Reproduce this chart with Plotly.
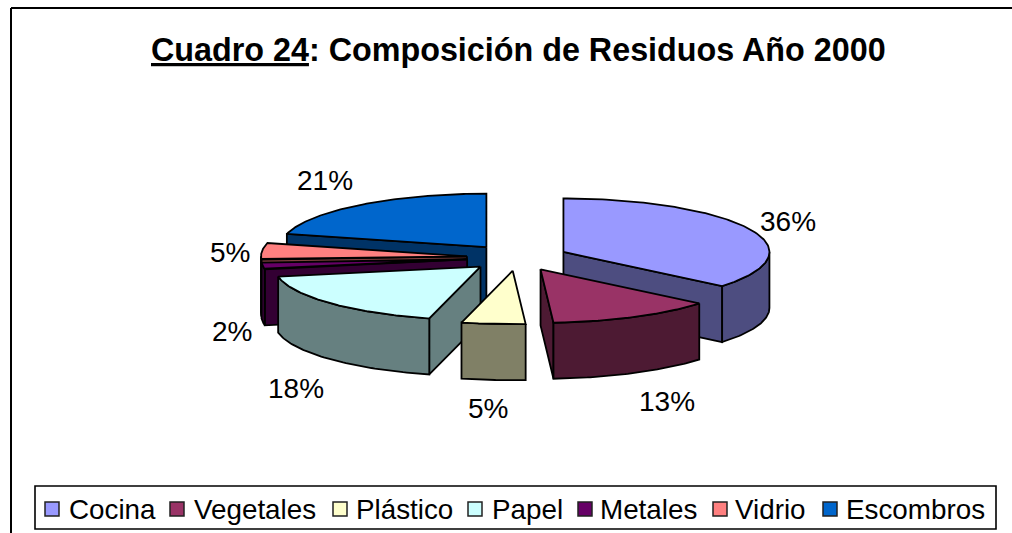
import numpy as np
import plotly.graph_objects as go

categories = ["Cocina", "Vegetales", "Plástico", "Papel", "Metales", "Vidrio", "Escombros"]
values = [36, 13, 5, 18, 2, 5, 21]
top_colors = ["#9999FF", "#993366", "#FFFFCC", "#CCFFFF", "#660066", "#FF8080", "#0066CC"]
side_colors = ["#4D4D80", "#4D1A33", "#808066", "#668080", "#330033", "#804040", "#003366"]
label_texts = ["36%", "13%", "5%", "18%", "2%", "5%", "21%"]
label_x = [788, 667, 488, 296, 232, 230, 325]
label_y = [221, 401, 408, 388, 331, 252, 180]
legend_swatch_x = [52, 177, 340, 475, 585, 720, 830]
legend_text_x = [69, 194, 356, 492, 600, 735, 846]

CX, CY = 517.5, 257.6
RX, RY = 206.0, 53.5
DEPTH = 56.0
EXPLODE = 0.2464
FONT = "Liberation Sans, Arial, sans-serif"

fig = go.Figure()


def poly(xs, ys, fill, name):
    fig.add_trace(go.Scatter(
        x=list(xs) + [xs[0]], y=list(ys) + [ys[0]], mode="lines", fill="toself",
        fillcolor=fill, line=dict(color="black", width=1.8), name=name,
        hoverinfo="name", showlegend=False))


total = sum(values)
cum = np.cumsum([0] + values) / total * 2 * np.pi
wedges = []
for i, cat in enumerate(categories):
    a0, a1 = cum[i], cum[i + 1]
    mid = (a0 + a1) / 2
    wedges.append((np.cos(mid), i, a0, a1, mid))

# back-to-front
for _, i, a0, a1, mid in sorted(wedges, key=lambda w: -w[0]):
    cat = categories[i]
    ax = CX + EXPLODE * RX * np.sin(mid)
    ay = CY - EXPLODE * RY * np.cos(mid)
    px = lambda t: ax + RX * np.sin(t)
    py = lambda t: ay - RY * np.cos(t)
    # visible radial cut faces
    for a, vis in ((a0, np.sin(a0) < -1e-6), (a1, np.sin(a1) > 1e-6)):
        if vis:
            poly([ax, px(a), px(a), ax], [ay, py(a), py(a) + DEPTH, ay + DEPTH], side_colors[i], cat)
    # visible outer rim
    lo, hi = max(a0, np.pi / 2), min(a1, 3 * np.pi / 2)
    if hi > lo:
        t = np.linspace(lo, hi, 60)
        poly(np.r_[px(t), px(t)[::-1]], np.r_[py(t), (py(t) + DEPTH)[::-1]], side_colors[i], cat)
    # top
    t = np.linspace(a0, a1, 120)
    poly(np.r_[ax, px(t)], np.r_[ay, py(t)], top_colors[i], cat)

# legend markers
fig.add_trace(go.Scatter(
    x=legend_swatch_x, y=[509] * len(categories), mode="markers", text=categories, hoverinfo="text",
    marker=dict(symbol="square", size=14, color=top_colors, line=dict(color="#222222", width=1.5)),
    showlegend=False))

annotations = [
    dict(x=518, y=50, text='<b><span style="text-decoration:underline">Cuadro 24</span>: Composición de Residuos Año 2000</b>',
         showarrow=False, xanchor="center", yanchor="middle", font=dict(size=32.3, color="black", family=FONT)),
]
for t, x, y in zip(label_texts, label_x, label_y):
    annotations.append(dict(x=x, y=y, text=t, showarrow=False, xanchor="center", yanchor="middle",
                            font=dict(size=28, color="black", family=FONT)))
for t, x in zip(categories, legend_text_x):
    annotations.append(dict(x=x, y=509, text=t, showarrow=False, xanchor="left", yanchor="middle", xshift=-2,
                            font=dict(size=27.8, color="black", family=FONT)))

shapes = [
    dict(type="line", x0=11, y0=8, x1=1012, y1=8, line=dict(color="black", width=2), layer="below"),
    dict(type="line", x0=11, y0=8, x1=11, y1=533, line=dict(color="black", width=2), layer="below"),
    dict(type="rect", x0=35, y0=486, x1=996, y1=529, line=dict(color="black", width=1.6), layer="below"),
]

fig.update_layout(
    width=1012, height=533, margin=dict(l=0, r=0, t=0, b=0), autosize=False,
    paper_bgcolor="white", plot_bgcolor="white", showlegend=False,
    xaxis=dict(range=[0, 1012], visible=False, fixedrange=True),
    yaxis=dict(range=[533, 0], visible=False, fixedrange=True),
    annotations=annotations, shapes=shapes,
)
fig.write_html("out.html", config=dict(displayModeBar=False), post_script="document.body.style.margin='0';")
